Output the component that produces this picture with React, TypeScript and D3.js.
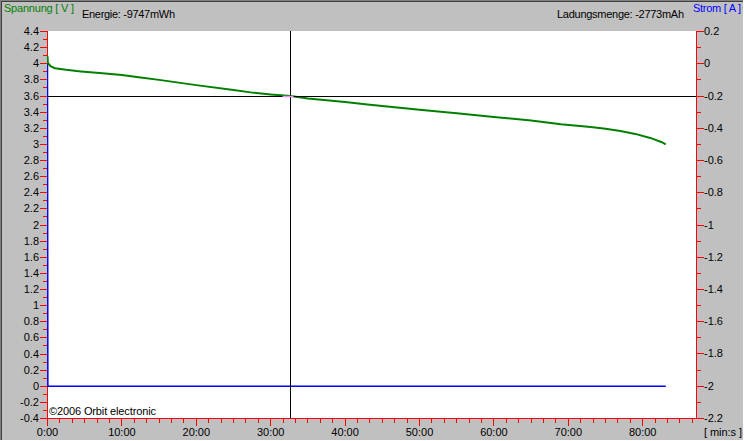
import React from 'react';
import * as d3 from 'd3';

// discharge log, time in minutes
const timeMin = [0, 0.05, 0.4, 1, 2.5, 4.5, 7, 10, 12.5, 15, 20, 25, 27.3, 30, 32.7, 35, 40, 43, 45, 50, 55, 60, 65, 69, 73, 75, 77, 79, 81, 82.5, 83.1];
const voltage = [4.1, 4.01, 3.97, 3.945, 3.925, 3.905, 3.885, 3.86, 3.83, 3.8, 3.735, 3.675, 3.645, 3.62, 3.6, 3.57, 3.525, 3.495, 3.475, 3.43, 3.385, 3.34, 3.295, 3.25, 3.215, 3.195, 3.165, 3.13, 3.08, 3.03, 3.0];
const currentTime = [0, 0.05, 83.1];
const current = [0, -2, -2];

const xTicks = [0, 10, 20, 30, 40, 50, 60, 70, 80];
const xTickLabels = ['0:00', '10:00', '20:00', '30:00', '40:00', '50:00', '60:00', '70:00', '80:00'];
const vTicks = [4.4, 4.2, 4, 3.8, 3.6, 3.4, 3.2, 3, 2.8, 2.6, 2.4, 2.2, 2, 1.8, 1.6, 1.4, 1.2, 1, 0.8, 0.6, 0.4, 0.2, 0, -0.2, -0.4];
const aTicks = [0.2, 0, -0.2, -0.4, -0.6, -0.8, -1, -1.2, -1.4, -1.6, -1.8, -2, -2.2];

const cursor = { t: 32.67, v: 3.6 };

const W = 744;
const H = 441;
const FONT = '"Liberation Sans", Arial, sans-serif';

const px = (v: number) => Math.round(v - 0.5) + 0.5;

const App: React.FC = () => {
  const x = d3.scaleLinear().domain([0, 87.23]).range([47.5, 696.5]);
  const yV = d3.scaleLinear().domain([-0.4, 4.4]).range([418.5, 31.5]);
  const yA = d3.scaleLinear().domain([-2.2, 0.2]).range([418.5, 31.5]);

  const vLine = d3.line<number>().x((_, i) => x(timeMin[i])).y(d => yV(d));
  const aLine = d3.line<number>().x((_, i) => x(currentTime[i])).y(d => yA(d));

  // minor ticks: every 100 s on time, every 0.1 on both value axes
  const xMinor = d3.range(0, 87.2, 100 / 60);
  const vMinor = d3.range(-3, 44, 2).map(d => d / 10);
  const aMinor = d3.range(-21, 2, 2).map(d => d / 10);

  const red = '#ff0000';
  const cx = px(x(cursor.t));
  const cy = px(yV(cursor.v));

  return (
    <div style={{ position: 'absolute', left: 0, top: 0 }}>
      <svg width={W} height={H} style={{ display: 'block' }} fontFamily={FONT} fontSize={11}>
        <rect x={0} y={0} width={W} height={H} fill="#c0c0c0" />
        <line x1={0} y1={0.5} x2={W} y2={0.5} stroke="#808080" />
        <line x1={0.5} y1={0} x2={0.5} y2={H} stroke="#808080" />
        <line x1={1.5} y1={1} x2={1.5} y2={H - 1} stroke="#404040" />
        <line x1={1} y1={1.5} x2={W - 1} y2={1.5} stroke="#404040" />
        <line x1={W - 0.5} y1={0} x2={W - 0.5} y2={H} stroke="#ffffff" />
        <line x1={0} y1={H - 0.5} x2={W} y2={H - 0.5} stroke="#ffffff" />

        <text x={4} y={12} fill="#008000" textLength={70} lengthAdjust="spacing">Spannung [ V ]</text>
        <text x={82} y={18} fill="#000" textLength={93} lengthAdjust="spacing">Energie: -9747mWh</text>
        <text x={557} y={18} fill="#000" textLength={127} lengthAdjust="spacing">Ladungsmenge: -2773mAh</text>
        <text x={693} y={12} fill="#0000ff" textLength={48} lengthAdjust="spacing">Strom [ A ]</text>

        <defs>
          <clipPath id="plot">
            <rect x={47} y={31} width={650} height={388} />
          </clipPath>
        </defs>
        <rect x={48} y={31} width={648} height={387} fill="#ffffff" />

        {/* axes */}
        <g stroke={red} shapeRendering="crispEdges">
          <line x1={47.5} y1={31} x2={47.5} y2={419} />
          <line x1={696.5} y1={31} x2={696.5} y2={419} />
          <line x1={40} y1={418.5} x2={704} y2={418.5} />
          {vTicks.map(v => (
            <line key={'vt' + v} x1={40} x2={48} y1={px(yV(v))} y2={px(yV(v))} />
          ))}
          {vMinor.map(v => (
            <line key={'vm' + v} x1={43} x2={48} y1={px(yV(v))} y2={px(yV(v))} />
          ))}
          {aTicks.map(v => (
            <line key={'at' + v} x1={696} x2={704} y1={px(yA(v))} y2={px(yA(v))} />
          ))}
          {aMinor.map(v => (
            <line key={'am' + v} x1={696} x2={701} y1={px(yA(v))} y2={px(yA(v))} />
          ))}
          {xMinor.map(t => (
            <line key={'xm' + t} x1={px(x(t))} x2={px(x(t))} y1={418} y2={423} />
          ))}
          {xTicks.map(t => (
            <line key={'xt' + t} x1={px(x(t))} x2={px(x(t))} y1={418} y2={426} />
          ))}
        </g>

        {vTicks.map(v => (
          <text key={'vl' + v} x={39} y={px(yV(v))} dy="0.35em" textAnchor="end" fill="#000">{String(v)}</text>
        ))}
        {aTicks.map(v => (
          <text key={'al' + v} x={704} y={px(yA(v))} dy="0.35em" fill="#000">{String(v)}</text>
        ))}
        {xTicks.map((t, i) => (
          <text key={'xl' + t} x={x(t)} y={436} textAnchor="middle" fill="#000">{xTickLabels[i]}</text>
        ))}
        <text x={704} y={436} fill="#000" textLength={38} lengthAdjust="spacing">[ min:s ]</text>

        <g clipPath="url(#plot)">
          <path d={aLine(current) || ''} fill="none" stroke="#0000ff" strokeWidth={1.5} />
          <path d={vLine(voltage) || ''} fill="none" stroke="#008000" strokeWidth={2} />
          <g stroke="#000" shapeRendering="crispEdges">
            <line x1={cx} x2={cx} y1={31} y2={418} />
            <line x1={48} x2={696} y1={cy} y2={cy} />
          </g>
          <line x1={cx - 8} x2={cx + 3} y1={cy} y2={cy} stroke="#f090f0" strokeWidth={1.5} />
        </g>

        <text x={49} y={415} fill="#000" textLength={107} lengthAdjust="spacing">©2006 Orbit electronic</text>
      </svg>
    </div>
  );
};

export default App;
